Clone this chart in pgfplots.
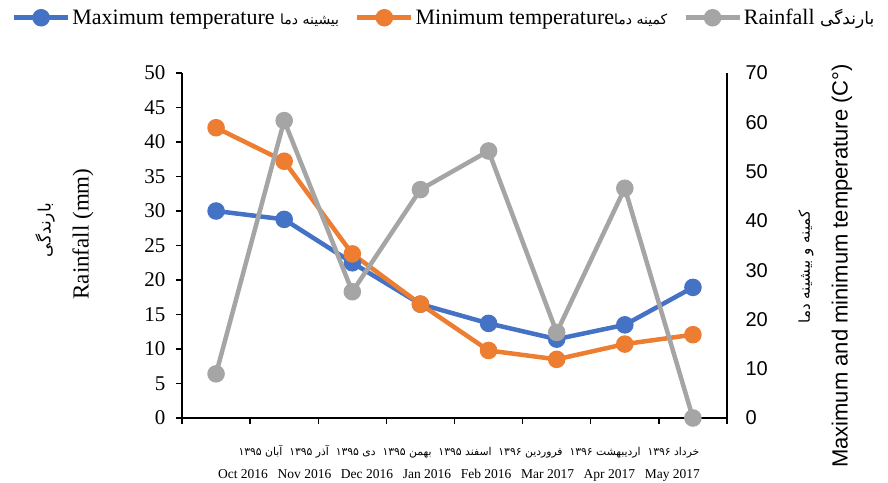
\documentclass[border=0pt]{standalone}
\usepackage{pgfplots}
\pgfplotsset{compat=1.18}
\usepackage{fontspec}
\setmainfont{Liberation Serif}
\setsansfont{Liberation Sans}
\newfontfamily\fa[Script=Arabic]{DejaVu Sans}
\TeXXeTstate=1
\definecolor{cblue}{HTML}{4472C4}
\definecolor{corange}{HTML}{ED7D31}
\definecolor{cgray}{HTML}{A5A5A5}
\begin{document}
\begin{tikzpicture}
\useasboundingbox (-182pt,-64pt) rectangle (706pt,418pt);
% temperature axis (right)
\begin{axis}[
  scale only axis, width=545pt, height=345pt,
  xmin=-0.5, xmax=7.5, ymin=0, ymax=70,
  axis x line=none, axis y line*=right,
  ytick={0,10,...,70}, ytick pos=right, yticklabel pos=right,
  major tick length=0pt,
  axis line style={-, line width=1.6pt, black},
  /pgf/number format/assume math mode=true,
  yticklabel style={font=\sffamily\fontsize{20}{24}\selectfont, xshift=15pt},
  clip=false,
]
\addplot[cblue, line width=4.5pt, mark=*, mark size=6.5pt] coordinates {
 (0,42.0) (1,40.3) (2,31.5) (3,23.1) (4,19.2) (5,16.0) (6,18.9) (7,26.5)};
\addplot[corange, line width=4.5pt, mark=*, mark size=6.5pt] coordinates {
 (0,58.9) (1,52.1) (2,33.3) (3,23.1) (4,13.7) (5,11.9) (6,15.0) (7,16.9)};
\end{axis}
% rainfall axis (left)
\begin{axis}[
  scale only axis, width=545pt, height=345pt,
  xmin=-0.5, xmax=7.5, ymin=0, ymax=50,
  axis x line*=bottom, axis y line*=left,
  xtick={-0.5,0.5,...,7.5}, xticklabels={}, xtick pos=bottom,
  ytick={0,5,...,50}, ytick pos=left,
  tick align=outside, major tick length=6pt,
  tick style={black, line width=1.3pt},
  axis line style={-, line width=1.6pt, black},
  /pgf/number format/assume math mode=true,
  yticklabel style={font=\fontsize{21}{24}\selectfont, xshift=-7pt},
  clip=false,
  legend columns=3,
  legend style={draw=none, fill=none, at={(-0.318,1.197)}, anchor=north west,
    font=\fontsize{22}{26}\selectfont,
    /tikz/every even column/.append style={column sep=14pt}},
  legend image code/.code={\draw[mark repeat=2,mark phase=2,#1] plot coordinates {(0pt,0pt) (27pt,0pt) (54pt,0pt)};},
]
\addlegendimage{cblue, line width=4.5pt, mark=*, mark size=6.5pt}
\addlegendentry{Maximum temperature {\fa\fontsize{14}{16}\selectfont\beginR بیشینه دما\endR}}
\addlegendimage{corange, line width=4.5pt, mark=*, mark size=6.5pt}
\addlegendentry{Minimum temperature{\fa\fontsize{14}{16}\selectfont\beginR کمینه دما\endR}}
\addplot[cgray, line width=4.5pt, mark=*, mark size=6.5pt] coordinates {
 (0,6.4) (1,43.1) (2,18.3) (3,33.1) (4,38.7) (5,12.4) (6,33.3) (7,0)};
\addlegendentry{Rainfall {\fa\fontsize{17}{19}\selectfont\beginR بارندگی\endR}}
\end{axis}
% axis titles
\node[rotate=90] at (-137pt,188pt) {\fa\fontsize{17}{19}\selectfont\beginR بارندگی\endR};
\node[rotate=90] at (-99pt,184pt) {\fontsize{23}{26}\selectfont Rainfall (mm)};
\node[rotate=90] at (624pt,151pt) {\fa\fontsize{15}{17}\selectfont\beginR کمینه و بیشینه دما\endR};
\node[rotate=90] at (660pt,152pt) {\sffamily\fontsize{22}{26}\selectfont Maximum and minimum temperature (C\textdegree)};
% category rows
\node at (287pt,-34pt) {\fa\fontsize{10.8}{12}\selectfont\beginR خرداد ۱۳۹۶~~اردیبهشت ۱۳۹۶~~فروردین ۱۳۹۶~~اسفند ۱۳۹۵~~بهمن ۱۳۹۵~~دی ۱۳۹۵~~آذر ۱۳۹۵~~آبان ۱۳۹۵\endR};
\node at (277pt,-57pt) {\fontsize{13.5}{16}\selectfont Oct 2016\hspace{9.7pt}Nov 2016\hspace{9.7pt}Dec 2016\hspace{9.7pt}Jan 2016\hspace{9.7pt}Feb 2016\hspace{9.7pt}Mar 2017\hspace{9.7pt}Apr 2017\hspace{9.7pt}May 2017};
\end{tikzpicture}
\end{document}
